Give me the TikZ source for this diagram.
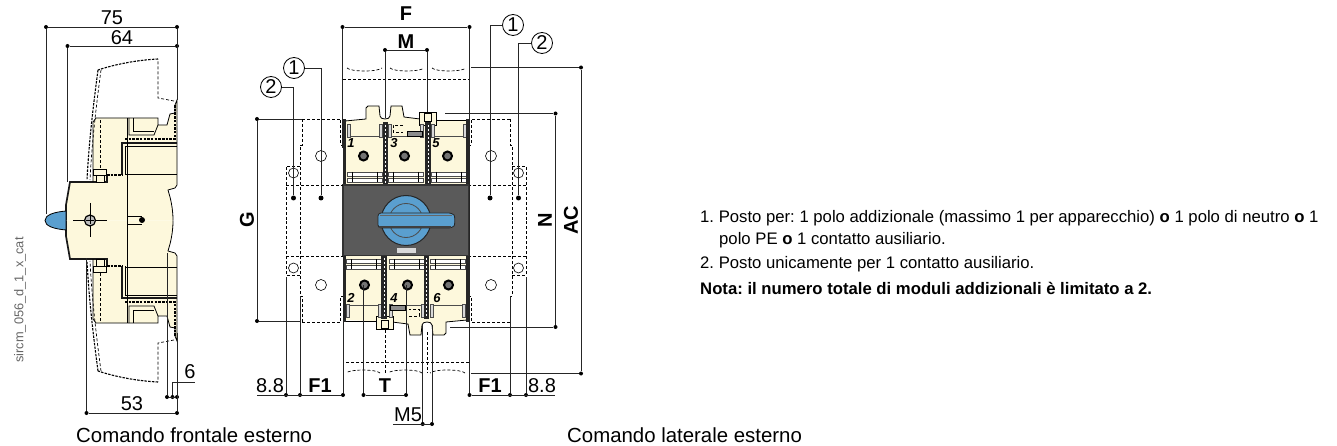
\documentclass[tikz,border=0pt]{standalone}
\usepackage{fontspec}
\setmainfont{Liberation Sans}
\definecolor{bodycream}{HTML}{FDF8DC}
\definecolor{handleblue}{HTML}{5A9FCF}
\definecolor{panelgray}{HTML}{5A5A5A}
\newcommand{\dimfont}{\fontsize{20}{22}\selectfont}
\newcommand{\notefont}{\fontsize{16.7}{18}\selectfont\frenchspacing}
\begin{document}
\begin{tikzpicture}[x=1pt,y=-1pt,
dimline/.style={draw=black!85,line width=0.9pt},
thinline/.style={draw=black,line width=0.6pt},
hidden/.style={draw=black,line width=0.7pt,dash pattern=on 3pt off 2pt},
hiddenbold/.style={draw=black,line width=1.1pt,dash pattern=on 2.5pt off 1.2pt},
outline/.style={draw=black,line width=0.8pt},
heavy/.style={draw=black!90,line width=1.7pt},
dimpt/.style={circle,fill=black,inner sep=0pt,minimum size=4pt},
bigpt/.style={circle,fill=black,inner sep=0pt,minimum size=5pt},
holeopen/.style={circle,draw=black,fill=white,line width=0.6pt,inner sep=0pt,minimum size=11pt},
callout/.style={circle,draw=black,line width=0.8pt,inner sep=0pt,minimum size=21pt,font=\dimfont},
dimtext/.style={inner sep=0pt,font=\dimfont},
dimbold/.style={inner sep=0pt,font=\dimfont\bfseries},
poletext/.style={inner sep=0pt,font=\fontsize{13}{13}\selectfont\bfseries\itshape},
notetext/.style={anchor=west,inner sep=0pt,font=\notefont},
]
\useasboundingbox (0,0) rectangle (1337,446);

% side view, body
\foreach \oy/\sy in {0/1,441/-1} {
\begin{scope}[shift={(0,\oy)},yscale=\sy]
\fill[bodycream] (66,220.5) -- (66,205) -- (70,182) -- (93,182) -- (93,122) -- (96,118) -- (158,118) -- (158,125) -- (167,125) -- (170,114) -- (175,113) -- (175,105) -- (177,100) -- (177,185) -- (175,188) -- (168,190) -- (170,197) .. controls (172,205) and (173,212) .. (173,220.5) -- cycle;
\draw[heavy] (66,220.5) -- (66,205) -- (70,182) -- (107,182) -- (107,175);
\draw[outline] (93,182) -- (93,122) -- (96,118) -- (158,118) -- (158,125) -- (167,125) -- (170,114) -- (175,113) -- (175,105) -- (177,100) -- (177,185) -- (175,188) -- (168,190) -- (170,197) .. controls (172,205) and (173,212) .. (173,220.5);
\draw[outline] (129,118) -- (129,135) -- (154,135) -- (158,125);
\draw[outline] (133,118) -- (133,131) -- (154,131);
\draw[heavy] (122,175) -- (122,143) -- (177,143);
\draw[outline] (125,175) -- (125,146) -- (177,146);
\draw[outline] (125,174) -- (177,174);
\draw[hiddenbold] (107,175) -- (122,175);
\draw[hiddenbold] (125,139) -- (175,139) -- (175,105);
% cover
\draw[hidden] (174,101) -- (158,98) -- (158,59);
\draw[hiddenbold] (158,59) .. controls (138,60) and (116,64) .. (98,70);
\draw[hiddenbold] (98,70) .. controls (94,100) and (89,140) .. (87,180);
\draw[hidden] (101,70) .. controls (97,100) and (92,140) .. (90,180);
\draw[hidden] (100,120) -- (100,170);
% fixing bolt
\draw[outline,fill=bodycream] (93,169) rectangle (106,175);
\draw[outline,fill=bodycream] (96,175) rectangle (104,182);
\end{scope}
}
\draw[outline] (127,118) -- (127,323);
\draw[fill=handleblue,outline] (66,211) .. controls (54,212) and (45,215) .. (45,220.5) .. controls (45,226) and (54,229) .. (66,230) -- cycle;
\draw[outline] (127,216) -- (142,216);
\draw[outline] (127,224) -- (142,224);
\node[circle,fill=black,inner sep=0pt,minimum size=6pt] (sideslot) at (142,220) {};
\draw[thinline] (73,220.5) -- (107,220.5);
\draw[thinline] (90,203) -- (90,237);
\node[circle,draw=black,fill=black!25,line width=1.2pt,inner sep=0pt,minimum size=11pt] (sideknob) at (90,220.5) {};
\draw[thinline] (86,220.5) -- (94,220.5);
\draw[thinline] (90,216.5) -- (90,224.5);

% side view, dimensions
\node[dimpt] (sa) at (46,27) {};
\node[dimpt] (sb) at (177,27) {};
\node[dimpt] (sc) at (67.5,46) {};
\node[dimpt] (sd) at (177,46) {};
\node[dimpt] (se) at (86.5,413) {};
\node[dimpt] (sf) at (177,413) {};
\node[dimpt] (sg) at (167,397) {};
\node[dimpt] (sh) at (172.5,397) {};
\node[dimpt] (si) at (177,397) {};
\coordinate (sj) at (46,214);
\coordinate (sk) at (67.5,182);
\coordinate (sl) at (177,100);
\coordinate (sm) at (86.5,258);
\coordinate (sn) at (177,333);
\coordinate (so) at (167,253);
\coordinate (sp) at (172.5,382);
\coordinate (sq) at (195,382);
\draw[dimline] (sa) -- (sb);
\draw[dimline] (sc) -- (sd);
\draw[dimline] (sa) -- (sj);
\draw[dimline] (sc) -- (sk);
\draw[dimline] (sb) -- (sl);
\draw[dimline] (se) -- (sf);
\draw[dimline] (se) -- (sm);
\draw[dimline] (sf) -- (sn);
\draw[dimline] (sg) -- (so);
\draw[dimline] (sg) -- (si);
\draw[dimline] (sh) -- (sp) -- (sq);
\node[dimtext] (t75) at (112,18) {75};
\node[dimtext] (t64) at (122,38) {64};
\node[dimtext] (t53) at (132,404) {53};
\node[dimtext] (t6) at (190,372) {6};
\node[rotate=90,inner sep=0pt,text=black!60,font=\fontsize{12.8}{13}\selectfont] (catcode) at (20,300) {sircm\_056\_d\_1\_x\_cat};

% front view, terminals
\foreach \ox/\oy/\sx/\sy in {0/0/1/1,812/441/-1/-1} {
\begin{scope}[shift={(\ox,\oy)},xscale=\sx,yscale=\sy]
\fill[bodycream] (366,119) -- (366,108) -- (368,106) -- (379,106) -- (380,116) .. controls (380,120) and (390,120) .. (390,116) -- (391,106) -- (402,106) -- (404,117) -- (420,119) -- (466,121) -- (466,185) -- (345,185) -- (345,121) -- cycle;
\draw[outline] (345,123) -- (345,121) -- (366,119) -- (366,108) -- (368,106) -- (379,106) -- (380,116) .. controls (380,120) and (390,120) .. (390,116) -- (391,106) -- (402,106) -- (404,117) -- (420,119);
\draw[outline,fill=bodycream] (419,112) rectangle (436,125);
\draw[outline] (424,113) rectangle (431,121);
\draw[outline] (436,120) -- (466,120);
\foreach \px in {347,388,431} {
\draw[outline,draw=black!70] (\px,136) -- (\px+35,136);
\draw[outline,draw=black!70,fill=black!15] (\px,124) rectangle (\px+3,137);
\draw[outline,draw=black!70,fill=black!15] (\px+32,124) rectangle (\px+35,137);
\draw[outline,draw=black!70,fill=white] (\px,172) rectangle (\px+35,176);
\draw[outline,draw=black!70,fill=white] (\px,178) rectangle (\px+35,182);
\draw[thinline] (\px+5,172) -- (\px+5,182);
\draw[thinline] (\px+30,172) -- (\px+30,182);
\node[circle,draw=black,fill=black!55,line width=2pt,inner sep=0pt,minimum size=9pt] (screw\px) at (\px+16.5,156) {};
}
\draw[hidden] (403,125) -- (393,125) -- (393,132) -- (403,132);
\draw[outline,fill=black!45] (407,131) rectangle (422,136);
\fill[black!85] (383,122) rectangle (388,185);
\fill[black!85] (425,122) rectangle (431,185);
\fill[black!85] (343,119) rectangle (346,185);
\fill[black!85] (466,119) rectangle (469,185);
\draw[white,line width=1pt,dash pattern=on 2pt off 2pt] (385.5,125) -- (385.5,183);
\draw[white,line width=1pt,dash pattern=on 2pt off 2pt] (428,125) -- (428,183);
% cover arcs
\draw[hidden] (347,68) .. controls (351,72) and (378,72) .. (382,68);
\draw[hidden] (390,68) .. controls (394,72) and (420,72) .. (424,68);
\draw[hidden] (432,68) .. controls (436,72) and (462,72) .. (466,68);
\draw[hidden] (343,79) -- (469,79);
\end{scope}
}
\draw[hidden] (385,330) -- (385,373);
\draw[hidden] (427.5,332) -- (427.5,373);
\node[poletext] (pole1) at (351,143) {1};
\node[poletext] (pole3) at (394,143) {3};
\node[poletext] (pole5) at (436,143) {5};
\node[poletext] (pole2) at (351,298) {2};
\node[poletext] (pole4) at (394,298) {4};
\node[poletext] (pole6) at (437,298) {6};

% front view, handle
\fill[panelgray] (343,185) rectangle (469,255.5);
\draw[line width=1.2pt,draw=black!80] (343,185) rectangle (469,255.5);
\node[circle,draw=black!85,fill=handleblue,line width=1pt,inner sep=0pt,minimum size=50pt] (knob) at (406,220.5) {};
\draw[outline,draw=black!70] (406,220.5) circle[radius=17];
\draw[line width=0.8pt,draw=black!85,fill=handleblue,rounded corners=3pt] (378,213) -- (452,213) .. controls (455,216) and (455,225) .. (452,228) -- (378,228) -- cycle;
\draw[line width=1pt,draw=black!60] (380,216) -- (452,216);
\draw[line width=1.4pt,draw=black!75] (379,227) -- (451,227);
\fill[black!15] (397,248) rectangle (416,253);

% front view, hidden modules
\foreach \ox/\sx in {0/1,812/-1} {
\foreach \oy/\sy in {0/1,441/-1} {
\begin{scope}[shift={(\ox,\oy)},xscale=\sx,yscale=\sy]
\draw[hidden] (302,119) -- (340.5,119) -- (340.5,145) -- (342.5,145);
\draw[hidden] (302,119) -- (302,145) -- (300,145) -- (300,220.5);
\draw[hidden] (300,166) -- (286,166) -- (286,220.5);
\draw[hidden] (286,185) -- (343,185);
\node[holeopen] (hole) at (321,156) {};
\node[holeopen,minimum size=10pt] (holesmall) at (293.5,173) {};
\end{scope}
}
}

% front view, dimensions
\node[dimpt] (fa) at (342.5,27) {};
\node[dimpt] (fb) at (469.5,27) {};
\node[dimpt] (ma) at (385,50) {};
\node[dimpt] (mb) at (427,50) {};
\node[dimpt] (ga) at (257,119) {};
\node[dimpt] (gb) at (257,321) {};
\coordinate (gc) at (302,119);
\coordinate (gd) at (300,321);
\node[dimpt] (na) at (555.5,113.5) {};
\node[dimpt] (nb) at (555.5,327) {};
\coordinate (nc) at (445,113.5);
\coordinate (nd) at (450,327);
\node[dimpt] (aa) at (581,67.5) {};
\node[dimpt] (ab) at (581,373.5) {};
\coordinate (ac) at (471,67.5);
\coordinate (ad) at (471,373.5);
\node[dimpt] (ba) at (286,395) {};
\node[dimpt] (bb) at (300,395) {};
\node[dimpt] (bc) at (343,395) {};
\node[dimpt] (bd) at (363.5,395) {};
\node[dimpt] (be) at (406,395) {};
\node[dimpt] (bf) at (469.5,395) {};
\node[dimpt] (bg) at (510,395) {};
\node[dimpt] (bh) at (526,395) {};
\coordinate (bi) at (257,395);
\coordinate (bj) at (555,395);
\node[dimpt] (ca) at (422.7,424) {};
\node[dimpt] (cb) at (432,424) {};
\coordinate (cc) at (393,424);
\coordinate (cd) at (422.7,325);
\coordinate (ce) at (432,325);
\draw[dimline] (fa) -- (fb);
\draw[dimline] (fa) -- (342.5,148);
\draw[dimline] (fb) -- (bf);
\draw[dimline] (ma) -- (mb);
\draw[dimline] (ma) -- (385,118);
\draw[dimline] (mb) -- (427,112);
\draw[dimline] (ga) -- (gb);
\draw[dimline] (ga) -- (gc);
\draw[dimline] (gb) -- (gd);
\draw[dimline] (na) -- (nb);
\draw[dimline] (na) -- (nc);
\draw[dimline] (nb) -- (nd);
\draw[dimline] (aa) -- (ab);
\draw[dimline] (aa) -- (ac);
\draw[dimline] (ab) -- (ad);
\draw[dimline] (bi) -- (bc);
\draw[dimline] (bd) -- (be);
\draw[dimline] (bf) -- (bj);
\draw[dimline] (ba) -- (286,277);
\draw[dimline] (bb) -- (300,296);
\draw[dimline] (bc) -- (343,296);
\draw[dimline] (bd) -- (363.5,285);
\draw[dimline] (be) -- (406,285);
\draw[dimline] (bg) -- (510,296);
\draw[dimline] (bh) -- (526,277);
\draw[dimline] (cc) -- (cb);
\draw[dimline] (ca) -- (cd);
\draw[dimline] (cb) -- (ce);
\node[dimbold] (tf) at (406,14) {F};
\node[dimbold] (tm) at (406,42) {M};
\node[dimbold,rotate=90] (tg) at (247,220) {G};
\node[dimbold,rotate=90] (tn) at (545,220) {N};
\node[dimbold,rotate=90] (tac) at (571,220) {AC};
\node[dimtext] (t88a) at (270,386) {8.8};
\node[dimbold] (tfa) at (320,386) {F1};
\node[dimbold] (tt) at (385,386) {T};
\node[dimbold] (tfb) at (490,386) {F1};
\node[dimtext] (t88b) at (542,386) {8.8};
\node[dimtext] (tm5) at (408,415) {M5};

% callouts
\node[callout] (onel) at (294,68) {1};
\node[callout] (twol) at (271,87) {2};
\node[callout] (oner) at (513,25) {1};
\node[callout] (twor) at (542,43) {2};
\node[bigpt] (ptonel) at (321,198) {};
\node[bigpt] (pttwol) at (293.5,198) {};
\node[bigpt] (ptoner) at (490,198) {};
\node[bigpt] (pttwor) at (518.5,198) {};
\draw[dimline] (onel) -| (ptonel);
\draw[dimline] (twol) -| (pttwol);
\draw[dimline] (oner) -| (ptoner);
\draw[dimline] (twor) -| (pttwor);

% captions and notes
\node[anchor=west,inner sep=0pt,font=\fontsize{20.4}{22}\selectfont] (capa) at (76,435) {Comando frontale esterno};
\node[anchor=west,inner sep=0pt,font=\fontsize{20.4}{22}\selectfont] (capb) at (567,435) {Comando laterale esterno};
\node[notetext] (notea) at (700,218) {1. Posto per: 1 polo addizionale (massimo 1 per apparecchio) \textbf{o} 1 polo di neutro \textbf{o} 1};
\node[notetext] (noteb) at (719,240) {polo PE \textbf{o} 1 contatto ausiliario.};
\node[notetext] (notec) at (700,264) {2. Posto unicamente per 1 contatto ausiliario.};
\node[notetext] (noted) at (700,288) {\textbf{Nota: il numero totale di moduli addizionali è limitato a 2.}};
\end{tikzpicture}
\end{document}
